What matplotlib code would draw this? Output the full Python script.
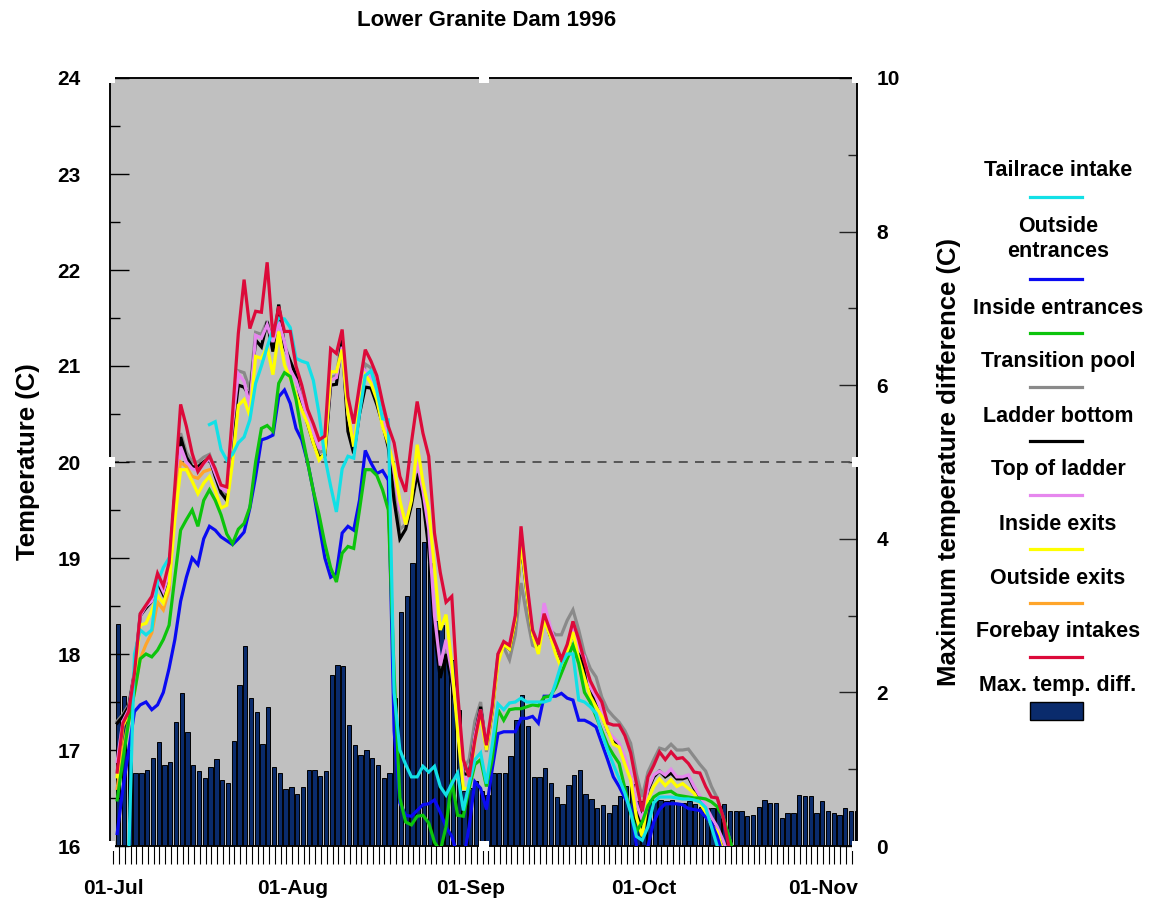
import numpy as np
import matplotlib
matplotlib.use("Agg")
import matplotlib.pyplot as plt
from matplotlib.lines import Line2D
from matplotlib.patches import Rectangle
from matplotlib.ticker import FixedLocator, MultipleLocator

nan = np.nan

# ---------------- data ----------------
month_labels = ["01-Jul", "01-Aug", "01-Sep", "01-Oct", "01-Nov"]
month_days = [0, 31, 62, 92, 123]          # days since 01-Jul

# daily maximum temperature difference (right axis), from 01-Jul
max_diff = [
    2.89, 1.95, 1.25, 0.95, 0.95, 0.99, 1.15, 1.35, 1.05, 1.09,
    1.62, 1.99, 1.48, 1.05, 0.98, 0.89, 1.03, 1.13, 0.86, 0.82,
    1.37, 2.10, 2.60, 1.93, 1.74, 1.33, 1.81, 1.03, 0.95, 0.74,
    0.77, 0.68, 0.77, 0.99, 0.99, 0.91, 0.98, 2.23, 2.36, 2.34,
    1.58, 1.31, 1.18, 1.25, 1.15, 1.05, 0.89, 0.95, 1.93, 3.05,
    3.26, 3.69, 4.40, 3.96, 3.69, 2.93, 2.88, 2.42, 2.42, 1.77,
    0.71, 0.75, 0.84, 0.71, 0.66, 0.95, 0.95, 0.95, 1.17, 1.64,
    1.97, 1.56, 0.90, 0.90, 1.02, 0.82, 0.64, 0.55, 0.79, 0.92,
    0.99, 0.68, 0.61, 0.49, 0.53, 0.43, 0.53, 0.65, 0.78, 0.81,
    0.58, 0.58, 0.60, 0.60, 0.60, 0.58, 0.60, 0.56, 0.56, 0.59,
    0.55, 0.51, 0.50, 0.50, 0.52, 0.55, 0.46, 0.46, 0.45, 0.39,
    0.41, 0.51, 0.60, 0.56, 0.56, 0.37, 0.43, 0.43, 0.66, 0.65,
    0.65, 0.43, 0.58, 0.46, 0.43, 0.41, 0.49, 0.46, 0.46,
]

tailrace = [
    nan, nan, 15.90, 18.00, 18.25, 18.20, 18.25, 18.75, 18.90, 19.00,
    nan, nan, nan, nan, nan, nan, 20.39, 20.42, 20.13, 20.02,
    20.08, 20.20, 20.26, 20.44, 20.82, 21.00, 21.20, 21.38, 21.50, 21.49,
    21.40, 21.08, 21.05, 21.03, 20.85, 20.50, 20.05, 19.75, 19.48, 19.93,
    20.06, 20.04, 20.50, 20.90, 20.95, 20.75, 20.45, 20.44, 17.60, 17.00,
    16.85, 16.72, 16.72, 16.83, 16.77, 16.83, 16.62, 16.53, 16.65, 16.76,
    16.37, 16.65, 16.90, 16.97, 16.65, 17.05, 17.48, 17.42, 17.49, 17.50,
    17.54, 17.50, 17.50, 17.50, 17.50, 17.52, 17.70, 17.90, 18.00, 18.00,
    17.52, 17.50, 17.45, 17.38, 17.17, 17.00, 16.85, 16.70, 16.55, 16.35,
    16.10, 16.06, 16.20, 16.45, 16.51, 16.51, 16.51, 16.50, 16.49, 16.49,
    16.48, 16.46, 16.40, 16.20, 16.00, nan, nan, nan,
]

outside_entr = [
    16.13, 16.60, 17.00, 17.40, 17.47, 17.50, 17.42, 17.47, 17.60, 17.85,
    18.15, 18.55, 18.80, 19.00, 18.93, 19.20, 19.33, 19.29, 19.22, 19.18,
    19.14, 19.20, 19.27, 19.52, 19.85, 20.23, 20.25, 20.28, 20.68, 20.75,
    20.61, 20.35, 20.23, 20.00, 19.70, 19.35, 19.00, 18.80, 18.84, 19.26,
    19.33, 19.29, 19.60, 20.12, 19.99, 19.88, 19.91, 19.81, 17.20, 16.45,
    16.32, 16.31, 16.37, 16.43, 16.44, 16.48, 16.35, 16.20, 16.10, 15.90,
    15.85, 16.20, 16.67, 16.60, 16.38, 16.80, 17.17, 17.19, 17.19, 17.19,
    17.33, 17.33, 17.35, 17.28, 17.56, 17.56, 17.56, 17.59, 17.54, 17.52,
    17.31, 17.31, 17.28, 17.24, 17.07, 16.90, 16.72, 16.62, 16.50, 16.41,
    16.00, 15.80, 16.00, 16.25, 16.38, 16.44, 16.44, 16.44, 16.43, 16.39,
    16.38, 16.37, 16.30, 16.24, 16.10, 15.90, nan, nan,
]

inside_entr = [
    16.48, 16.90, 17.30, 17.60, 17.95, 18.00, 17.97, 18.04, 18.15, 18.30,
    18.80, 19.29, 19.40, 19.50, 19.33, 19.60, 19.71, 19.60, 19.45, 19.25,
    19.15, 19.30, 19.36, 19.53, 20.00, 20.35, 20.38, 20.32, 20.82, 20.93,
    20.89, 20.65, 20.30, 20.00, 19.70, 19.45, 19.15, 18.90, 18.75, 19.05,
    19.12, 19.10, 19.50, 19.92, 19.92, 19.86, 19.71, 19.50, 17.80, 16.50,
    16.25, 16.22, 16.31, 16.32, 16.24, 16.04, 15.95, 16.20, 16.69, 16.32,
    16.31, 16.60, 16.85, 16.90, 16.62, 16.90, 17.42, 17.31, 17.42, 17.43,
    17.43, 17.45, 17.47, 17.46, 17.55, 17.56, 17.65, 17.80, 17.95, 18.09,
    17.90, 17.60, 17.50, 17.35, 17.20, 17.05, 16.95, 16.86, 16.60, 16.35,
    16.15, 16.25, 16.42, 16.51, 16.55, 16.56, 16.57, 16.53, 16.52, 16.51,
    16.50, 16.50, 16.49, 16.46, 16.41, 16.31, 16.10, 15.90,
]

transition_pool = [
    17.30, 17.37, 17.47, 17.82, 18.42, 18.50, 18.57, 18.78, 18.65, 18.88,
    19.68, 20.30, 20.10, 20.00, 20.00, 20.05, 20.08, 19.90, 19.72, 19.65,
    20.40, 20.95, 20.93, 20.75, 21.35, 21.33, 21.47, 21.20, 21.50, 21.22,
    21.05, 20.92, 20.65, 20.45, 20.25, 20.10, 20.12, 20.88, 20.90, 21.30,
    20.45, 20.15, 20.60, 21.02, 20.98, 20.75, 20.50, 20.25, 19.75, 19.30,
    19.35, 19.60, 19.95, 19.65, 19.20, 18.30, 17.80, 18.05, 17.75, 17.50,
    16.80, 16.90, 17.30, 17.50, 16.98, 17.40, 18.00, 18.07, 17.94, 18.20,
    18.74, 18.40, 18.09, 18.06, 18.39, 18.25, 18.20, 18.20, 18.35, 18.46,
    18.25, 18.00, 17.85, 17.76, 17.55, 17.42, 17.35, 17.29, 17.20, 17.07,
    16.75, 16.51, 16.77, 16.90, 17.02, 17.00, 17.06, 17.00, 17.00, 17.01,
    16.93, 16.85, 16.78, 16.62, 16.50, 16.30, 16.10, 15.90,
]

ladder_bottom = [
    17.28, 17.35, 17.45, 17.80, 18.40, 18.48, 18.55, 18.75, 18.62, 18.85,
    19.65, 20.26, 20.05, 19.95, 19.95, 20.00, 20.04, 19.85, 19.68, 19.60,
    20.30, 20.80, 20.78, 20.68, 21.27, 21.20, 21.46, 21.15, 21.64, 21.20,
    21.05, 20.90, 20.60, 20.40, 20.20, 20.05, 20.07, 20.80, 20.81, 21.27,
    20.32, 20.09, 20.50, 20.78, 20.77, 20.60, 20.40, 20.15, 19.60, 19.20,
    19.30, 19.55, 19.88, 19.60, 19.10, 18.22, 17.75, 18.00, 17.70, 17.30,
    16.75, 16.75, 17.15, 17.45, 17.02, 17.40, 17.95, 18.10, 18.05, 18.35,
    19.15, 18.65, 18.20, 18.05, 18.40, 18.20, 18.05, 17.90, 18.00, 18.25,
    18.00, 17.85, 17.60, 17.50, 17.38, 17.20, 17.10, 17.05, 16.90, 16.72,
    16.40, 16.22, 16.58, 16.72, 16.78, 16.72, 16.76, 16.70, 16.70, 16.72,
    16.60, 16.50, 16.40, 16.28, 16.18, 16.04, 15.88, nan,
]

top_of_ladder = [
    16.88, 17.30, 17.42, 17.80, 18.40, 18.50, 18.55, 18.78, 18.65, 18.85,
    19.60, 20.16, 20.00, 19.93, 19.91, 19.98, 20.04, 19.88, 19.73, 19.69,
    20.40, 20.92, 20.84, 20.58, 21.32, 21.29, 21.43, 21.25, 21.46, 21.25,
    20.96, 20.85, 20.65, 20.45, 20.30, 20.15, 20.15, 20.85, 20.88, 21.20,
    20.50, 20.20, 20.60, 20.95, 20.88, 20.70, 20.45, 20.25, 19.90, 19.50,
    19.35, 19.65, 20.00, 19.70, 19.30, 18.40, 17.88, 18.15, 17.80, 17.30,
    16.70, 16.70, 17.15, 17.42, 17.05, 17.45, 17.95, 18.12, 18.10, 18.40,
    19.20, 18.72, 18.25, 18.10, 18.53, 18.30, 18.10, 17.95, 18.05, 18.30,
    18.05, 17.97, 17.66, 17.55, 17.40, 17.20, 17.13, 17.07, 16.93, 16.75,
    16.44, 16.27, 16.60, 16.74, 16.78, 16.74, 16.80, 16.72, 16.72, 16.74,
    16.62, 16.52, 16.42, 16.30, 16.20, 16.06, 15.90, nan,
]

inside_exits = [
    16.72, 17.25, 17.38, 17.75, 18.30, 18.32, 18.45, 18.61, 18.53, 18.72,
    19.40, 19.92, 19.92, 19.80, 19.67, 19.78, 19.85, 19.70, 19.52, 19.55,
    20.00, 20.59, 20.65, 20.48, 21.10, 21.08, 21.20, 20.91, 21.36, 21.01,
    20.87, 20.70, 20.54, 20.40, 20.20, 20.02, 20.09, 20.94, 20.94, 21.17,
    20.51, 20.16, 20.60, 20.91, 20.82, 20.65, 20.37, 20.19, 19.95, 19.60,
    19.35, 19.60, 20.18, 19.79, 19.50, 18.90, 18.25, 18.41, 17.90, 17.20,
    16.60, 16.60, 17.10, 17.35, 17.00, 17.40, 17.90, 18.10, 18.05, 18.35,
    19.17, 18.65, 18.20, 18.00, 18.35, 18.20, 18.00, 17.85, 18.00, 18.23,
    17.95, 17.75, 17.56, 17.45, 17.35, 17.21, 17.06, 17.03, 16.85, 16.69,
    16.30, 16.10, 16.48, 16.62, 16.70, 16.63, 16.69, 16.62, 16.65, 16.60,
    16.55, 16.45, 16.35, 16.22, 16.15, 15.95, 15.75, nan,
]

outside_exits = [
    16.60, 17.00, 17.30, 17.60, 17.95, 18.10, 18.22, 18.54, 18.46, 18.67,
    19.60, 20.00, 19.95, 19.85, 19.83, 19.90, 19.92,
] + [nan] * 91

forebay = [
    16.77, 17.28, 17.40, 17.80, 18.42, 18.51, 18.60, 18.84, 18.71, 18.95,
    19.74, 20.60, 20.37, 20.09, 19.90, 19.99, 20.06, 19.93, 19.76, 19.74,
    20.50, 21.34, 21.90, 21.39, 21.57, 21.56, 22.08, 21.30, 21.62, 21.36,
    21.36, 21.00, 20.80, 20.55, 20.40, 20.23, 20.27, 21.18, 21.13, 21.38,
    20.68, 20.40, 20.80, 21.17, 21.05, 20.90, 20.62, 20.37, 20.20, 19.85,
    19.69, 20.20, 20.63, 20.30, 20.06, 19.26, 18.85, 18.54, 18.60, 17.60,
    16.90, 16.72, 17.10, 17.42, 17.05, 17.45, 18.00, 18.13, 18.09, 18.40,
    19.33, 18.75, 18.25, 18.10, 18.42, 18.25, 18.10, 17.95, 18.10, 18.34,
    18.15, 17.92, 17.72, 17.60, 17.50, 17.28, 17.26, 17.26, 17.15, 16.97,
    16.65, 16.36, 16.72, 16.84, 16.98, 16.90, 16.98, 16.91, 16.92, 16.86,
    16.77, 16.76, 16.62, 16.51, 16.50, 16.31, 16.00, 15.70,
]

series_names = ["Tailrace intake", "Outside\nentrances", "Inside entrances",
                "Transition pool", "Ladder bottom", "Top of ladder",
                "Inside exits", "Outside exits", "Forebay intakes"]
series_values = [tailrace, outside_entr, inside_entr, transition_pool,
                 ladder_bottom, top_of_ladder, inside_exits, outside_exits,
                 forebay]
series_colors = ["#12E0E6", "#0A0AF2", "#0CC40C", "#8A8A8A", "#000000",
                 "#E687EE", "#FFFF00", "#FFA52A", "#DC0A3A"]
series_z = [8, 6, 7, 2, 3, 4, 5, 4.5, 9]
bar_color = "#0A2B6C"
bar_label = "Max. temp. diff."

# ---------------- figure ----------------
W, H = 1150, 901
plt.rcParams["font.family"] = ["Liberation Sans", "DejaVu Sans"]
plt.rcParams["font.weight"] = "bold"
fig = plt.figure(figsize=(W / 100, H / 100), dpi=100)

L, R, T, B = 110, 857, 78, 846
ax_bar = fig.add_axes([L / W, 1 - B / H, (R - L) / W, (B - T) / H])
ax_bar.set_facecolor("#C0C0C0")

bar_off = 0.87
line_off = 0.67
xb = np.arange(len(max_diff)) + bar_off
ax_bar.bar(xb, max_diff, width=0.75, color=bar_color, edgecolor="black",
           linewidth=0.7, zorder=2)
ax_bar.set_ylim(0, 10)
ax_bar.set_xlim(-0.57, 128.9)

ax = ax_bar.twinx()
ax.set_ylim(16, 24)
ax.axhline(20, color="#4d4d4d", lw=1.3, ls=(0, (5, 4)), zorder=1)
for vals, col, z in zip(series_values, series_colors, series_z):
    xv = np.arange(len(vals)) + line_off
    ax.plot(xv, vals, color=col, lw=2.3, zorder=z, solid_joinstyle="miter")

# axes styling
for a in (ax, ax_bar):
    for s in a.spines.values():
        s.set_color("black")
        s.set_linewidth(1.1)

ax.yaxis.tick_left()
ax.yaxis.set_label_position("left")
ax_bar.yaxis.tick_right()
ax_bar.yaxis.set_label_position("right")

ax.set_yticks(np.arange(16, 25, 1))
ax.yaxis.set_minor_locator(MultipleLocator(0.5))
ax.tick_params(axis="y", which="major", direction="in", length=14, width=1,
               labelsize=15, pad=21)
ax.tick_params(axis="y", which="minor", direction="in", length=7, width=1)

ax_bar.set_yticks(np.arange(0, 11, 2))
ax_bar.yaxis.set_minor_locator(MultipleLocator(1))
ax_bar.tick_params(axis="y", which="major", direction="in", length=13,
                   width=1, labelsize=15, pad=14, color="#222222")
ax_bar.tick_params(axis="y", which="minor", direction="in", length=6.5,
                   width=1, color="#222222")

ax_bar.set_xticks(month_days)
ax_bar.set_xticklabels(month_labels)
ax_bar.xaxis.set_minor_locator(FixedLocator(np.arange(0, 129)))
ax_bar.tick_params(axis="x", which="major", direction="out", length=13,
                   width=0.8, labelsize=15, pad=11)
ax_bar.tick_params(axis="x", which="minor", direction="out", length=13,
                   width=0.8)
ax.tick_params(axis="x", which="both", bottom=False, labelbottom=False)

for lab in ax.get_yticklabels() + ax_bar.get_yticklabels() + ax_bar.get_xticklabels():
    lab.set_fontweight("bold")

ax.set_ylabel("Temperature (C)", fontsize=18.5, fontweight="bold")
ax.yaxis.set_label_coords((40 - L) / (R - L), 0.5)
ax_bar.set_ylabel("Maximum temperature difference (C)", fontsize=18.5,
                  fontweight="bold")
ax_bar.yaxis.set_label_coords((937 - L) / (R - L), 0.5)

# white frame handles
ax.plot([0, 0.5, 1, 0, 1, 0, 0.5, 1], [0, 0, 0, 0.5, 0.5, 1, 1, 1], "s",
        color="white", ms=7.5, mew=0, transform=ax.transAxes, clip_on=False,
        zorder=20)

fig.text(487 / W, 1 - 20 / H, "Lower Granite Dam 1996", ha="center",
         va="center", fontsize=16, fontweight="bold")

# ---------------- legend (manual) ----------------
cx = 1058
text_y = [171, 239, 308, 362, 416, 470, 524, 578, 632]
line_y = [197, 279, 333, 387, 441, 495, 549, 603, 657]
for name, col, ty, ly in zip(series_names, series_colors, text_y, line_y):
    fig.text(cx / W, 1 - ty / H, name, ha="center", va="center",
             fontsize=15.5, fontweight="bold", linespacing=1.3)
    fig.add_artist(Line2D([1030 / W, 1082 / W], [1 - ly / H, 1 - ly / H],
                          color=col, lw=2.3, transform=fig.transFigure))
fig.text(cx / W, 1 - 686 / H, bar_label, ha="center", va="center",
         fontsize=15.5, fontweight="bold")
fig.add_artist(Rectangle((1030 / W, 1 - 720 / H), 53 / W, 18 / H,
                         facecolor=bar_color, edgecolor="black", lw=1,
                         transform=fig.transFigure))

fig.savefig("out.png", dpi=100)
